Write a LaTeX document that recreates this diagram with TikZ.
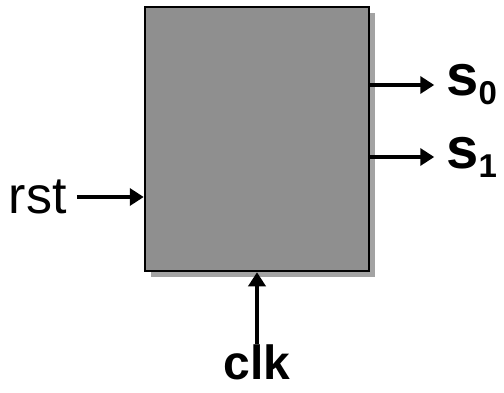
\documentclass[tikz,border=0pt]{standalone}
\usepackage{fontspec}
\setmainfont{Liberation Sans}
\usetikzlibrary{positioning,shadows,arrows.meta}

\tikzset{
  sig/.style={line width=4.5pt, -{Triangle[length=14pt,width=17pt]}},
  block/.style={draw, line width=2.5pt, fill=black!44,
    minimum width=224pt, minimum height=264pt,
    drop shadow={shadow xshift=6pt, shadow yshift=-6pt, fill=black!36, opacity=1}},
  port/.style={inner sep=0pt},
}
\newcommand{\outsig}[1]{\fontsize{58}{58}\selectfont\bfseries s\raisebox{-9pt}{\fontsize{33}{33}\selectfont #1}}

\begin{document}
\begin{tikzpicture}[x=1pt,y=1pt]
  \useasboundingbox (0,0) rectangle (504,392);

  % the state machine block
  \node[block] (box) at (257,253) {};

  % outputs
  \coordinate (s0end) at ([xshift=64pt,yshift=54pt]box.east);
  \coordinate (s1end) at ([xshift=64pt,yshift=-18pt]box.east);
  \draw[sig] (box.east |- s0end) -- (s0end);
  \draw[sig] (box.east |- s1end) -- (s1end);
  \node[port, right=12pt of s0end] (s0) {\outsig{0}};
  \node[port, right=12pt of s1end] (s1) {\outsig{1}};

  % reset
  \coordinate (rststart) at ([xshift=-67pt,yshift=-58pt]box.west);
  \node[port, left=10pt of rststart] (rst) {\fontsize{52}{52}\selectfont rst};
  \draw[sig] (rststart) -- (box.west |- rststart);

  % clock
  \coordinate (clkstart) at ([yshift=-72pt]box.south);
  \node[port, below=0pt of clkstart] (clk) {\fontsize{48}{48}\selectfont\bfseries clk};
  \draw[sig] (clkstart) -- (box.south);
\end{tikzpicture}
\end{document}
